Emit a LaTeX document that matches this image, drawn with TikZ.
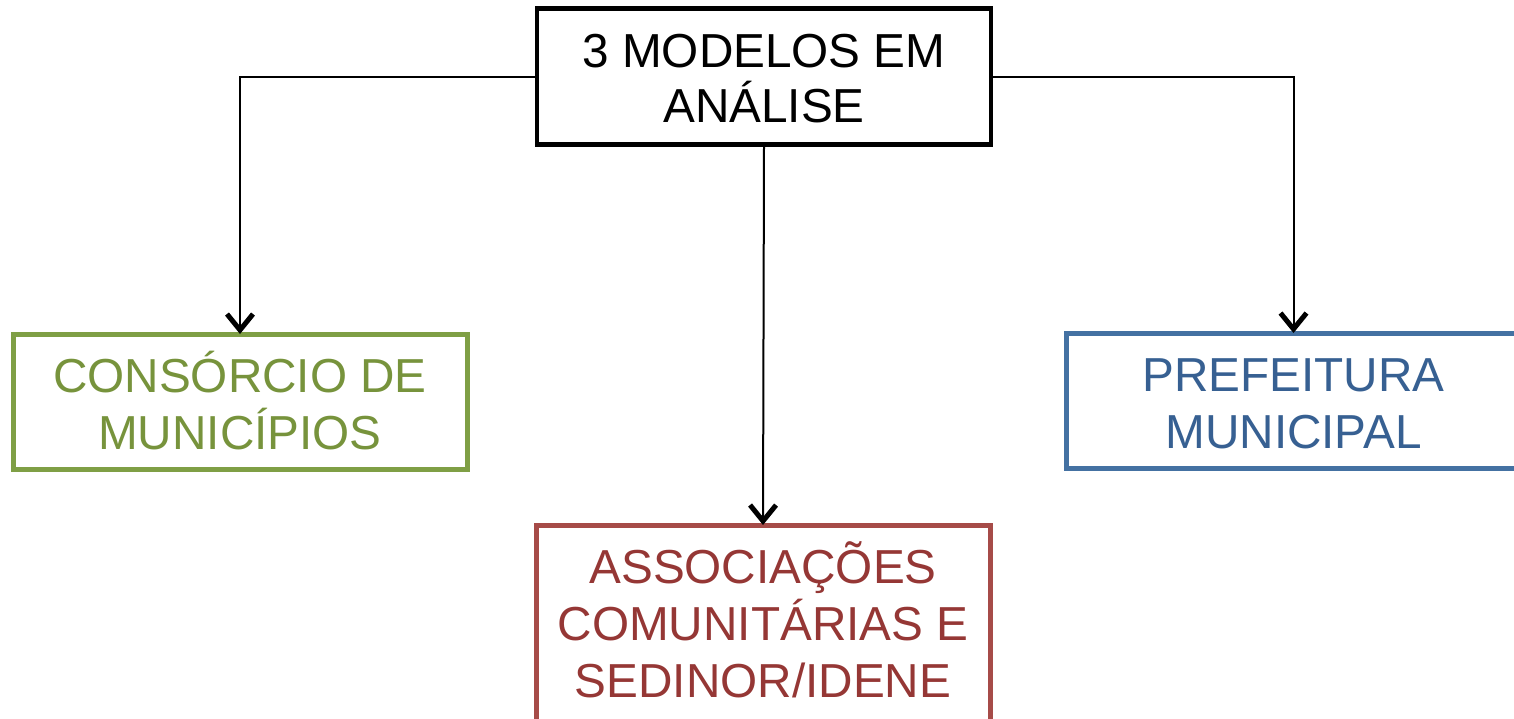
\documentclass[tikz,border=0pt]{standalone}
\usepackage{fontspec}
\setmainfont{Liberation Sans}
\usetikzlibrary{arrows.meta}
\definecolor{gtxt}{HTML}{77933C}
\definecolor{gbrd}{HTML}{7F9F45}
\definecolor{btxt}{HTML}{376092}
\definecolor{bbrd}{HTML}{4471A2}
\definecolor{rtxt}{HTML}{953735}
\definecolor{rbrd}{HTML}{A64B48}
\tikzset{
  boxshape/.style={draw, rectangle, line width=5pt, inner sep=0pt, outer sep=0pt, minimum width=454pt, minimum height=135pt},
  txt57/.style={align=center, inner sep=0pt, anchor=base, font=\fontsize{47.7}{57}\selectfont},
  txt55/.style={align=center, inner sep=0pt, anchor=base, font=\fontsize{47.7}{54.5}\selectfont},
  conn/.style={line width=2pt, -{Straight Barb[length=16pt,width=26pt,line width=5pt]}}
}
\begin{document}
\begin{tikzpicture}[x=1pt,y=-1pt]
\useasboundingbox (0,0) rectangle (1514,718);
\node[boxshape, draw=black, line width=4.6pt, minimum width=454pt, minimum height=136pt] (top) at (764,76.5) {};
\node[txt55] (topT) at (764,122) {3 MODELOS EM\\ANÁLISE};
\node[boxshape, draw=gbrd] (cons) at (240,401.5) {};
\node[txt57, text=gtxt] (consT) at (240,449) {CONSÓRCIO DE\\MUNICÍPIOS};
\node[boxshape, draw=bbrd] (pref) at (1293.5,400.5) {};
\node[txt57, text=btxt] (prefT) at (1293.5,448) {PREFEITURA\\MUNICIPAL};
\node[boxshape, draw=rbrd, minimum height=210pt] (assoc) at (763,630) {};
\node[txt57, text=rtxt] (assocT) at (763,697) {ASSOCIAÇÕES\\COMUNITÁRIAS E\\SEDINOR/IDENE};
\draw[conn] (top.west) -| (cons.north);
\draw[conn] (top.east) -| (pref.north);
\draw[conn] (top.south) -- (assoc.north);
\end{tikzpicture}
\end{document}
